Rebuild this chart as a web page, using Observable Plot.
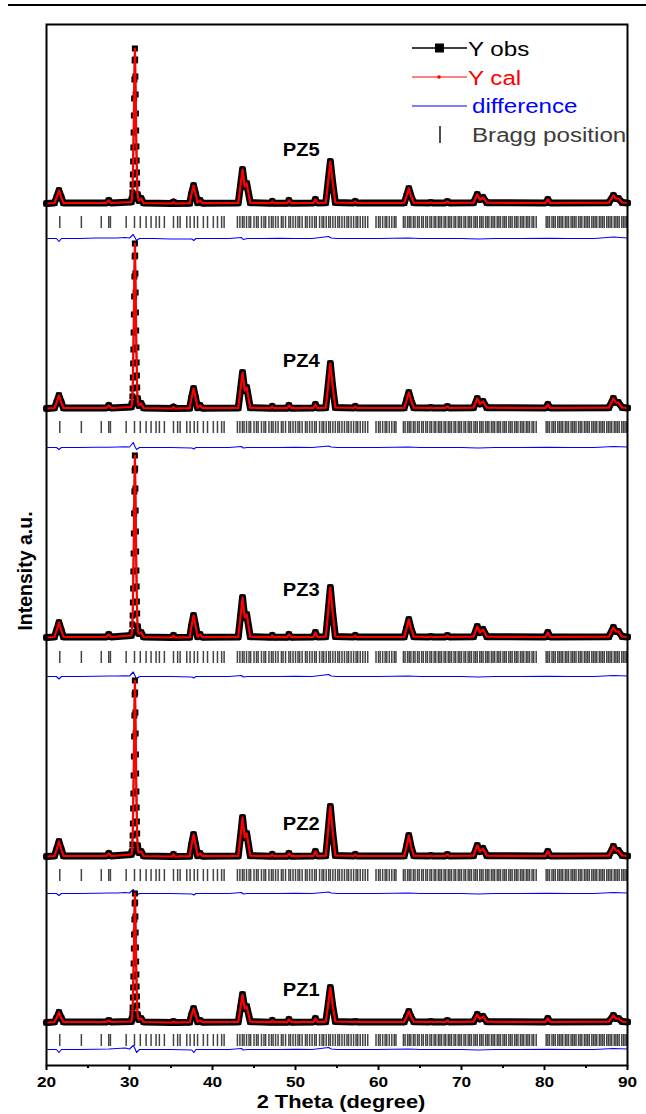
<!DOCTYPE html>
<html><head><meta charset="utf-8">
<script src="https://cdn.jsdelivr.net/npm/d3@7"></script>
<script src="https://cdn.jsdelivr.net/npm/@observablehq/plot@0.6"></script>
<style>
html,body{margin:0;padding:0;background:#fff;}
#wrap{position:relative;width:646px;height:1114px;overflow:hidden;}
#topline{position:absolute;left:8px;top:4px;width:638px;height:2px;background:#000;}
#chart{position:absolute;left:0;top:0;}
</style></head><body>
<div id="wrap"><div id="chart"></div><div id="topline"></div></div>
<script>
// ---------------- data ----------------
const samples = ["PZ1", "PZ2", "PZ3", "PZ4", "PZ5"];

// 2-theta sampling of the observed / calculated pattern (degrees)
const twoTheta = [
  20.0, 20.95, 21.22, 21.5, 21.78, 22.05,
  27.2, 27.5, 27.8,
  30.22, 30.29, 30.35, 30.38, 30.41, 30.44, 30.47, 30.50, 30.53, 30.56, 30.59, 30.62, 30.65,
  30.68, 30.71, 30.74, 30.77, 30.80, 30.83, 30.86, 30.89, 30.92, 30.97, 31.05, 31.12,
  31.4, 31.7,
  35.1, 35.3, 35.5,
  37.25, 37.46, 37.72, 37.98, 38.2, 38.5, 38.8,
  43.1, 43.36, 43.62, 43.88, 44.12, 44.55,
  47.0, 47.2, 47.4,
  49.0, 49.2, 49.5,
  52.15, 52.4, 52.65,
  53.65, 53.92, 54.2, 54.48, 54.8,
  57.0, 57.2, 57.4,
  63.1, 63.38, 63.65, 63.92, 64.25,
  66.1, 66.3, 66.5,
  68.05, 68.3, 68.55,
  71.45, 71.9, 72.22, 72.6, 73.05,
  80.1, 80.4, 80.7,
  87.75, 88.3, 88.6, 88.9, 89.35, 90.0
];

// intensities (a.u.) above each pattern's own baseline
const obsPZ5 = [0, 0.5, 6, 13, 6, 0.5,
  0.5, 3, 0.5,
  1.5, 5, 11, 19, 29, 42, 56, 71, 88, 105, 124, 143, 155,
  144, 127, 109, 90, 73, 57, 43, 31, 20, 9, 5, 3,
  5, 0.5,
  0, 1.5, 0,
  0.3, 9, 18, 9, 0.8, 3, 0.3,
  0.5, 17, 34, 17, 20, 0.8,
  0.3, 2, 0.3,
  0.3, 3, 0.3,
  0.5, 4, 0.5,
  0.8, 21, 42, 21, 1,
  0.5, 2, 0.5,
  0.5, 7.5, 15, 7.5, 0.8,
  0.5, 1, 0.5,
  0.5, 2, 0.5,
  0.8, 9, 4, 6, 0.8,
  0.5, 4, 0.5,
  0.8, 8, 5, 5, 1, 0.5];
const obsPZ4 = [0, 0.5, 6, 13, 6, 0.5,
  0.5, 3, 0.5,
  1.5, 5, 12, 20, 31, 45, 59, 76, 94, 112, 132, 152, 165,
  153, 135, 116, 96, 78, 61, 46, 33, 21, 10, 5, 3,
  5, 0.5,
  0, 1.5, 0,
  0.3, 10, 20, 10, 0.8, 3, 0.3,
  0.5, 18, 36, 18, 21, 0.8,
  0.3, 2, 0.3,
  0.3, 3, 0.3,
  0.5, 4, 0.5,
  0.8, 22, 45, 22, 1,
  0.5, 2, 0.5,
  0.5, 8, 16, 8, 0.8,
  0.5, 1, 0.5,
  0.5, 2, 0.5,
  0.8, 10, 4.5, 7, 0.8,
  0.5, 4, 0.5,
  0.8, 10, 6, 6, 1, 0.5];
const obsPZ3 = [0, 0.5, 7, 15, 7, 0.5,
  0.5, 3, 0.5,
  2, 5, 13, 22, 35, 49, 66, 84, 104, 124, 146, 167, 182,
  169, 149, 127, 106, 86, 67, 51, 36, 24, 11, 5, 4,
  5, 0.5,
  0, 2, 0,
  0.3, 11, 22, 11, 0.8, 3, 0.3,
  0.5, 20, 40, 20, 23, 0.8,
  0.3, 2, 0.3,
  0.3, 3, 0.3,
  0.5, 5, 0.5,
  0.8, 25, 50, 25, 1,
  0.5, 2, 0.5,
  0.5, 9, 18, 9, 0.8,
  0.5, 1, 0.5,
  0.5, 2, 0.5,
  0.8, 11, 5, 8, 0.8,
  0.5, 5, 0.5,
  0.8, 10, 6, 6, 1, 0.5];
const obsPZ2 = [0, 0.5, 7, 15, 7, 0.5,
  0.5, 3, 0.5,
  2, 5, 12, 21, 33, 48, 63, 81, 100, 120, 141, 162, 176,
  164, 144, 123, 102, 83, 65, 49, 35, 23, 11, 5, 4,
  5, 0.5,
  0, 2, 0,
  0.3, 11, 22, 11, 0.8, 3, 0.3,
  0.5, 19, 39, 19, 23, 0.8,
  0.3, 2, 0.3,
  0.3, 3, 0.3,
  0.5, 5, 0.5,
  0.8, 25, 50, 25, 1,
  0.5, 2, 0.5,
  0.5, 10, 21, 10, 0.8,
  0.5, 1, 0.5,
  0.5, 2, 0.5,
  0.8, 11, 5, 8, 0.8,
  0.5, 5, 0.5,
  0.8, 10, 6, 6, 1, 0.5];
const obsPZ1 = [0, 0.5, 4.5, 10, 4.5, 0.5,
  0.5, 2, 0.5,
  1, 4, 9, 15, 25, 35, 46, 59, 74, 88, 103, 119, 129,
  120, 106, 90, 75, 61, 48, 36, 26, 17, 8, 4, 3,
  4, 0.5,
  0, 1, 0,
  0.3, 7, 14, 7, 0.8, 2, 0.3,
  0.5, 14, 28, 14, 16, 0.8,
  0.3, 2, 0.3,
  0.3, 3, 0.3,
  0.5, 4, 0.5,
  0.8, 17, 35, 17, 1,
  0.5, 1, 0.5,
  0.5, 5.5, 11, 5.5, 0.8,
  0.5, 1, 0.5,
  0.5, 2, 0.5,
  0.8, 8, 3.5, 6, 0.8,
  0.5, 4, 0.5,
  0.8, 7, 4, 4, 1, 0.5];

// difference curve (Yobs - Ycal)
const diffTheta = [20.0, 21.2, 21.5, 21.8, 24.0, 26.0, 27.5, 28.5, 29.5, 30.0, 30.45, 30.65, 30.85, 31.2, 33.0, 35.0, 37.5, 37.75, 38.0, 40.0, 42.0, 43.5, 43.7, 44.2, 46.0, 48.0, 50.0, 52.0, 54.0, 54.3, 55.0, 58.0, 60.0, 63.6, 65.0, 68.0, 70.0, 72.0, 74.0, 77.0, 80.4, 83.0, 86.0, 88.3, 90.0];
const diffPZ5 = [0, 0, -3, 0, 0, 0.5, 0.5, 0.5, 1, 0.5, 4, 1, -2, 0, 0, -0.5, -0.5, -2, 0, 0, 0, 1, -1, 0, 0, 0.3, 0, 0, 2, 0.5, 0, 0, 0, 0.5, 0, 0, 0, -0.5, 0, 0, 0.3, 0, 0, 1.5, 0.5];
const diffPZ4 = [0, 0, -2, 0, 0, 0.3, 0.3, 0.5, 0.8, 0.5, 5, 1, -2, 0, 0, 0, -0.5, -1.5, 0, 0, 0, 1, -0.5, 0, 0, 0, 0.3, 0, 1.5, 0.5, 0, 0, 0, 0.5, 0, 0, 0, -0.5, 0, 0, 0.3, 0, 0, 1, 0.5];
const diffPZ3 = [0, 0, -2.5, 0, 0, 0.3, 0.5, 0.5, 0.8, 0.5, 4.5, 1, -2.5, 0, 0, 0, -0.5, -1.5, 0, 0, 0, 1, -0.5, 0, 0, 0, 0.3, 0, 2, 0.5, 0, 0, 0, 0.5, 0, 0, 0, -0.5, 0, 0, 0.3, 0, 0, 1, 0.5];
const diffPZ2 = [0, 0, -2, 0, 0, 0.3, 0.5, 0.5, 1, 0.5, 4, 1, -2, 0, 0, 0, -0.5, -1.5, 0, 0, 0, 1, -0.5, 0, 0, 0, 0.3, 0, 1.5, 0.5, 0, 0, 0, 0.5, 0, 0, 0, -0.5, 0, 0, 0.3, 0, 0, 1, 0.5];
const diffPZ1 = [0, 0, -3, 0, 0, 0.3, 0.5, 1, 1.5, 0.5, 4, 1, -3, 0, 0, 0, -0.5, -3, 0, 0, 0, 1, -0.5, 0, 0, 0, 0.3, 0, 2, 0.5, 0, 0, 0, 0.5, 0, 0, 0, -0.5, 0, 0, 0.3, 0, 0, 1, 0.5];

// Bragg reflection positions (degrees 2-theta)
const braggPositions = [21.6, 24.2, 26.6, 27.5, 27.7, 29.6, 30.6, 31.3, 32.0, 32.6, 33.2, 33.6, 34.2, 35.3, 35.8, 36.1, 36.9, 37.3, 37.8, 38.2, 38.9, 39.4, 40.1, 40.6, 41.1, 41.4,
  43.0, 43.3, 43.6, 43.8, 44.1, 44.4, 44.6, 45.0, 45.3, 45.5, 45.9, 46.2, 46.4, 46.8, 47.1, 47.3, 47.6, 47.9, 48.3, 48.5, 48.8, 49.2, 49.4, 49.7, 50.0, 50.3, 50.5, 50.8, 51.2, 51.4, 51.7, 52.0, 52.3, 52.5, 52.9, 53.2, 53.4, 53.7, 54.0, 54.2, 54.5, 54.8, 55.1, 55.3, 55.6, 55.9, 56.2, 56.4, 56.7, 57.0, 57.3, 57.5, 57.8, 58.1, 58.4, 58.7,
  59.7, 60.0, 60.2, 60.5, 60.8, 61.0, 61.3, 61.6, 61.9, 62.1,
  63.0, 63.2, 63.5, 63.7, 63.9, 64.2, 64.4, 64.7, 64.9, 65.2, 65.4, 65.7, 65.9, 66.2, 66.4, 66.7, 66.9, 67.2, 67.4, 67.6, 67.9, 68.1, 68.4, 68.6, 68.8, 69.1, 69.3, 69.6, 69.8, 70.0, 70.3, 70.5, 70.8, 71.0, 71.2, 71.5, 71.7, 71.9, 72.2, 72.4, 72.6, 72.9, 73.1, 73.3, 73.6, 73.8, 74.0, 74.3, 74.5, 74.7, 75.0, 75.2, 75.4, 75.7, 75.9, 76.1, 76.4, 76.6, 76.8, 77.1, 77.3, 77.5, 77.8, 78.0, 78.2, 78.5, 78.7, 79.0,
  80.2, 80.4, 80.6, 80.9, 81.1, 81.3, 81.6, 81.8, 82.0, 82.2, 82.5, 82.7, 82.9, 83.2, 83.4, 83.6, 83.8, 84.1, 84.3, 84.5, 84.8, 85.0, 85.2, 85.4, 85.7, 85.9, 86.1, 86.3, 86.6, 86.8, 87.0, 87.2, 87.5, 87.7, 87.9, 88.1, 88.4, 88.6, 88.8, 89.0, 89.3, 89.5, 89.7, 89.9];

// vertical stacking offsets (a.u.) for PZ1..PZ5
const patternOffset = [43, 209, 428, 657, 862];
const braggOffset = [25, 190, 408, 638, 843];
const diffOffset = [16, 172, 389, 618, 827];
const labelOffset = [75, 241, 475, 704, 915];
const labelTheta = 50.7;

const majorTicks = [20, 30, 40, 50, 60, 70, 80, 90];
const minorTicks = [25, 35, 45, 55, 65, 75, 85];

// ---------------- build tables ----------------
const obsBySample = [obsPZ1, obsPZ2, obsPZ3, obsPZ4, obsPZ5];
const diffBySample = [diffPZ1, diffPZ2, diffPZ3, diffPZ4, diffPZ5];

const obsRows = samples.flatMap((s, i) =>
  twoTheta.map((t, j) => ({sample: s, theta: t, y: patternOffset[i] + obsBySample[i][j]})));
const diffRows = samples.flatMap((s, i) =>
  diffTheta.map((t, j) => ({sample: s, theta: t, y: diffOffset[i] + diffBySample[i][j]})));
const braggRows = samples.flatMap((s, i) =>
  braggPositions.map(t => ({sample: s, theta: t, y1: braggOffset[i] - 6, y2: braggOffset[i] + 6})));
const labelRows = samples.map((s, i) => ({sample: s, theta: labelTheta, y: labelOffset[i]}));

// steep flanks of the strongest reflection are shown as separate points
const onMainFlank = d => d.theta > 30.32 && d.theta < 30.95;

const FONT = "'Liberation Sans', Arial, Helvetica, sans-serif";
const STRETCH = 1.15;

const plot = Plot.plot({
  width: 646,
  height: 1114,
  marginLeft: 46,
  marginRight: 19,
  marginTop: 24,
  marginBottom: 49,
  style: {fontFamily: FONT, background: "#fff", color: "#000", overflow: "visible"},
  x: {domain: [20, 90], axis: null},
  y: {domain: [0, 1041], axis: null},
  marks: [
    Plot.ruleX(braggRows, {x: "theta", y1: "y1", y2: "y2", stroke: "#444", strokeWidth: 1.5}),
    Plot.line(diffRows, {x: "theta", y: "y", z: "sample", stroke: "#0000ff", strokeWidth: 1.1}),
    Plot.line(obsRows, {x: "theta", y: d => onMainFlank(d) ? NaN : d.y, z: "sample", stroke: "#000", strokeWidth: 7, strokeLinejoin: "round"}),
    Plot.line(obsRows, {x: "theta", y: "y", z: "sample", stroke: "#000", strokeWidth: 1.5}),
    Plot.dot(obsRows, {x: "theta", y: "y", symbol: "square", r: 3.4, fill: "#000"}),
    Plot.line(obsRows, {x: "theta", y: "y", z: "sample", stroke: "#ff0000", strokeWidth: 2.2}),
    Plot.text(labelRows, {x: "theta", y: "y", text: "sample", fontSize: 17.5, fontWeight: "bold", fill: "#000"}),
    Plot.axisX({ticks: majorTicks, tickSize: 5, tickPadding: 6, strokeWidth: 2, fontSize: 15, fontWeight: "bold", label: null}),
    Plot.axisX({ticks: minorTicks, tickSize: 3, tickFormat: () => "", strokeWidth: 2, label: null}),
    Plot.frame({stroke: "#000", strokeWidth: 2})
  ]
});

// widen horizontal texts like the original figure
plot.querySelectorAll("text").forEach(t => {
  const tr = t.getAttribute("transform") || "";
  t.setAttribute("transform", tr + ` scale(${STRETCH},1)`);
});

const svg = d3.select(plot);
const lg = svg.append("g").attr("font-family", FONT);

// legend
const legendItems = [
  {label: "Y obs", line: "#000", text: "#000", ly: 48, base: 56, kind: "square"},
  {label: "Y cal", line: "#ff0000", text: "#ff0000", ly: 77, base: 85, kind: "dot"},
  {label: "difference", line: "#0000ff", text: "#0000ff", ly: 106, base: 113, kind: "line"},
  {label: "Bragg position", line: "#3c3c3c", text: "#3c3c3c", ly: 134, base: 142, kind: "tick"}
];
legendItems.forEach(it => {
  if (it.kind === "tick") {
    lg.append("line").attr("x1", 440).attr("x2", 440).attr("y1", 126).attr("y2", 143)
      .attr("stroke", it.line).attr("stroke-width", 1.8);
  } else {
    lg.append("line").attr("x1", 412).attr("x2", 467).attr("y1", it.ly).attr("y2", it.ly)
      .attr("stroke", it.line).attr("stroke-width", it.kind === "square" ? 1.4 : 1.2);
    if (it.kind === "square") lg.append("rect").attr("x", 435).attr("y", it.ly - 4.5).attr("width", 9).attr("height", 9).attr("fill", "#000");
    if (it.kind === "dot") lg.append("circle").attr("cx", 439).attr("cy", it.ly).attr("r", 1.8).attr("fill", "#ff0000");
  }
  lg.append("text").attr("transform", `translate(${it.kind === "square" || it.kind === "dot" ? 468 : 472},${it.base}) scale(${STRETCH},1)`)
    .attr("text-anchor", "start").attr("font-size", 21).attr("fill", it.text).text(it.label);
});

// axis titles
lg.append("text").attr("transform", `translate(341,1108) scale(${STRETCH},1)`)
  .attr("text-anchor", "middle").attr("font-size", 19).attr("font-weight", "bold").text("2 Theta (degree)");
lg.append("text").attr("transform", "translate(31.5,571) rotate(-90)")
  .attr("text-anchor", "middle").attr("font-size", 19.5).attr("font-weight", "bold").text("Intensity a.u.");

document.getElementById("chart").appendChild(plot);
</script>
</body></html>
